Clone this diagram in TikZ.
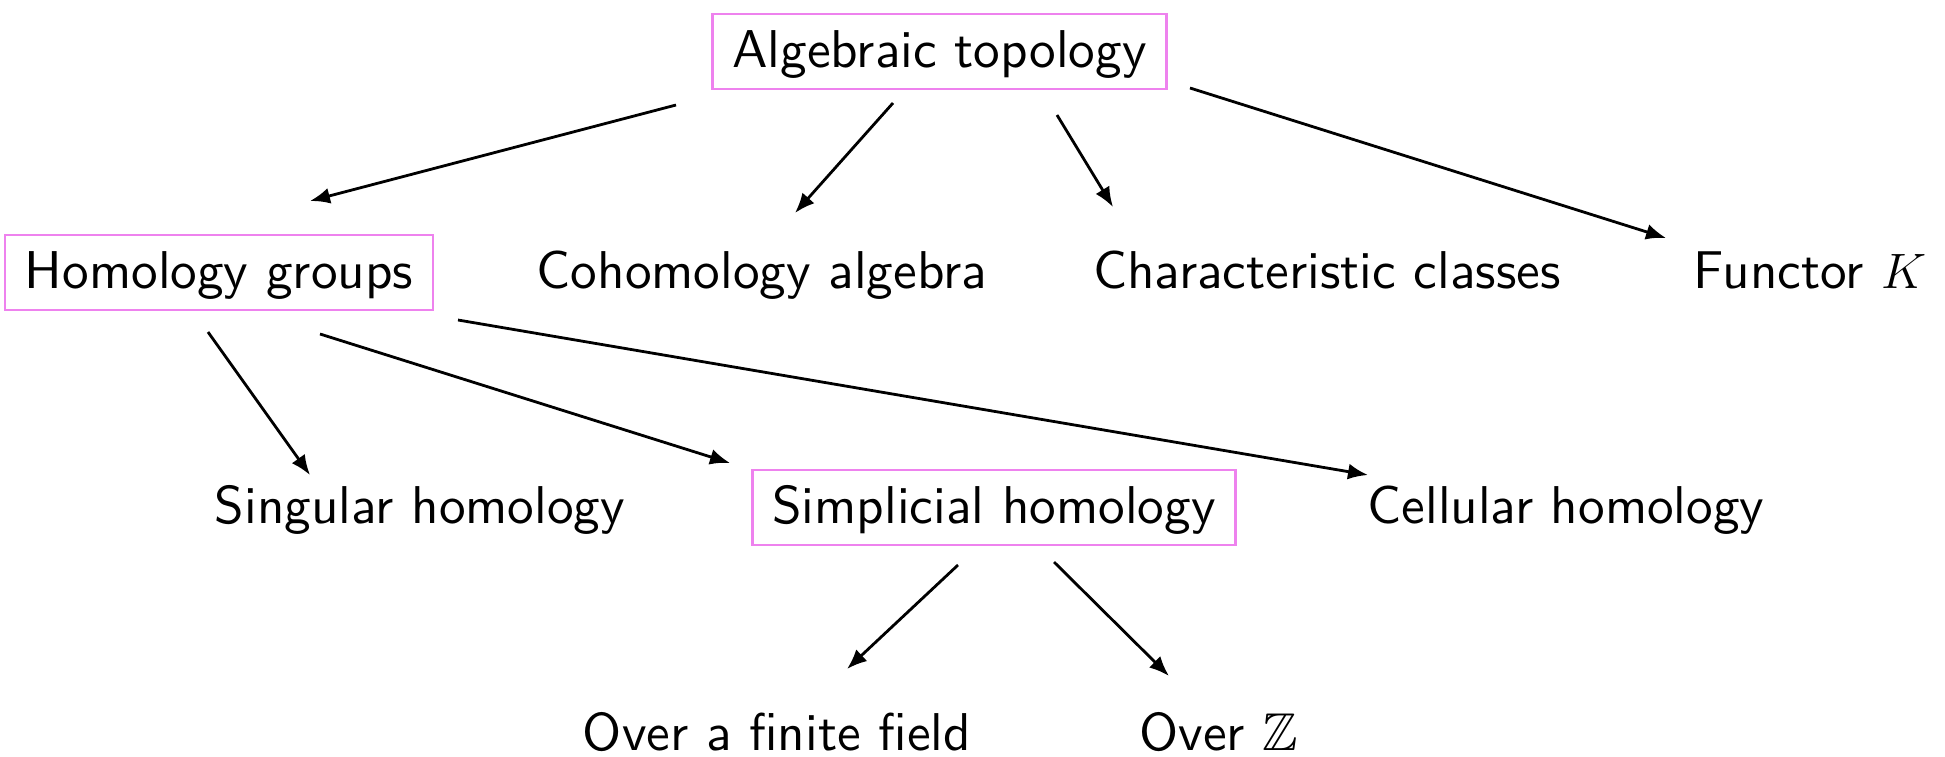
\documentclass[tikz,border=0pt]{standalone}
\usepackage{amssymb}
\usepackage{fontspec}
\newfontfamily\tensans{lmsans10-regular.otf}
\usetikzlibrary{arrows.meta}
\definecolor{boxviolet}{RGB}{238,130,238}
\tikzset{
  lbl/.style={font=\tensans\fontsize{26.6}{32}\selectfont, anchor=base,
    text height=21.5pt, text depth=6pt, inner xsep=10pt, inner ysep=5pt},
  boxed/.style={lbl, draw=boxviolet, line width=1.4pt},
  arr/.style={line width=1.4pt, -{Latex[length=10pt,width=8pt]}}
}
\begin{document}
\begin{tikzpicture}[x=0.5pt, y=-0.5pt]
\useasboundingbox (0,0) rectangle (1945,756);
% row 1
\node[boxed] (alg) at (939.5,67) {Algebraic topology};
% row 2
\node[boxed] (hg) at (219,288) {Homology groups};
\node[lbl] (coh) at (762,288) {Cohomology algebra};
\node[lbl] (chr) at (1327,288) {Characteristic classes};
\node[lbl] (fun) at (1810,288) {Functor $K$};
% row 3
\node[lbl] (sing) at (420,523) {Singular homology};
\node[boxed] (simp) at (994,523) {Simplicial homology};
\node[lbl] (cell) at (1566,523) {Cellular homology};
% row 4
\node[lbl] (off) at (777,750) {Over a finite field};
\node[lbl] (oz) at (1219,750) {Over $\mathbb{Z}$};
% connectors
\draw[arr] ([shift={(-263.5,38)}]alg.base) -- ([shift={(91,-87)}]hg.base);
\draw[arr] ([shift={(-46.5,36)}]alg.base) -- ([shift={(33,-75)}]coh.base);
\draw[arr] ([shift={(117.5,48)}]alg.base) -- ([shift={(-214,-81)}]chr.base);
\draw[arr] ([shift={(250.5,21)}]alg.base) -- ([shift={(-144,-50)}]fun.base);
\draw[arr] ([shift={(-11,44)}]hg.base) -- ([shift={(-110,-48)}]sing.base);
\draw[arr] ([shift={(101,46)}]hg.base) -- ([shift={(-264,-60)}]simp.base);
\draw[arr] ([shift={(239,32)}]hg.base) -- ([shift={(-198,-48)}]cell.base);
\draw[arr] ([shift={(-36,42)}]simp.base) -- ([shift={(70,-81)}]off.base);
\draw[arr] ([shift={(60,39)}]simp.base) -- ([shift={(-50,-74)}]oz.base);
\end{tikzpicture}
\end{document}
